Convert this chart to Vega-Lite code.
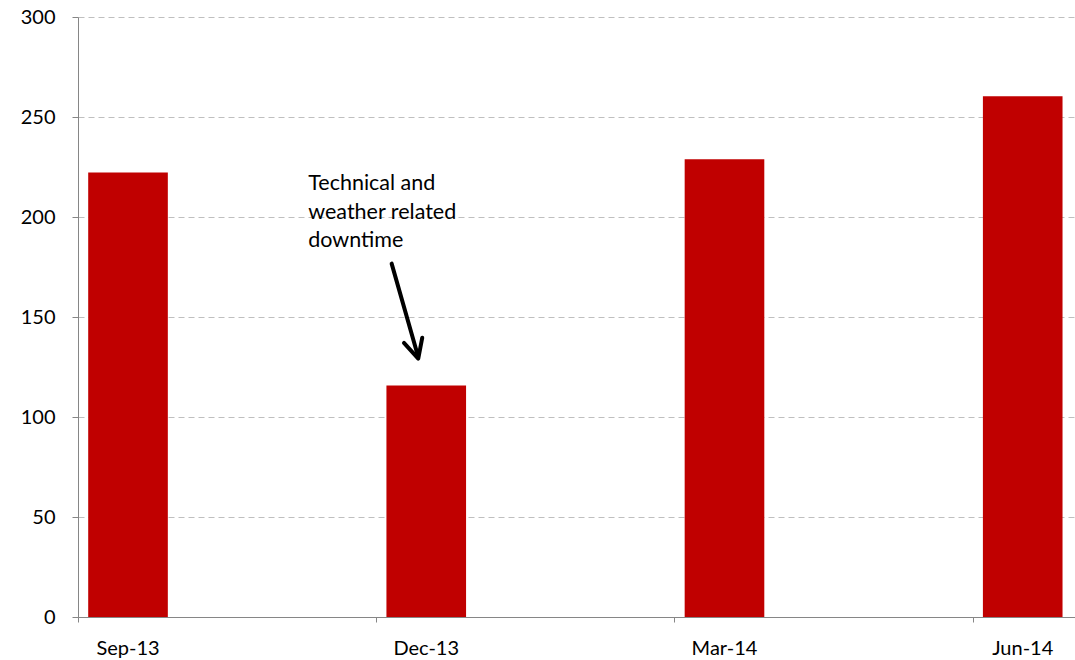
{
  "$schema": "https://vega.github.io/schema/vega-lite/v6.json",
  "width": 997,
  "height": 600,
  "autosize": {"type": "none"},
  "padding": {"left": 78, "top": 17, "right": 0, "bottom": 43},
  "background": "white",
  "config": {"view": {"stroke": null}, "font": "Lato"},
  "datasets": {
    "bars": [
      {"period": "Sep-13", "value": 222.2},
      {"period": "Dec-13", "value": 115.7},
      {"period": "Mar-14", "value": 228.9},
      {"period": "Jun-14", "value": 260.4}
    ],
    "note": [
      {"period": "Dec-13", "ty": 213.3, "label": "Technical and\nweather related\ndowntime", "ya": 176.7, "yb": 130.5, "tip": 129.2}
    ]
  },
  "encoding": {
    "x": {
      "field": "period",
      "type": "nominal",
      "sort": null,
      "scale": {"domain": ["Sep-13", "Dec-13", "Mar-14", "Jun-14"], "paddingInner": 0.733, "paddingOuter": 0.038, "align": 0.45},
      "axis": {
        "title": null,
        "labelAngle": 0,
        "bandPosition": -0.122,
        "tickSize": 5,
        "tickColor": "#868686",
        "domainColor": "#868686",
        "labelFontSize": 20,
        "labelColor": "black",
        "labelBaseline": "alphabetic",
        "labelPadding": 32,
        "grid": false
      }
    }
  },
  "layer": [
    {
      "data": {"name": "bars"},
      "mark": {"type": "bar", "color": "#C00000"},
      "encoding": {
        "y": {
          "field": "value",
          "type": "quantitative",
          "scale": {"domain": [0, 300], "nice": false},
          "axis": {
            "title": null,
            "values": [0, 50, 100, 150, 200, 250, 300],
            "grid": true,
            "gridDash": [6, 4],
            "gridColor": "#BFBFBF",
            "tickSize": 6,
            "tickColor": "#868686",
            "domainColor": "#868686",
            "labelPadding": 17,
            "labelFontSize": 20,
            "labelColor": "black"
          }
        }
      }
    },
    {
      "data": {"name": "note"},
      "mark": {"type": "text", "align": "left", "baseline": "alphabetic", "xOffset": -118, "fontSize": 21.5, "lineHeight": 28.5, "lineBreak": "\n", "color": "black"},
      "encoding": {
        "y": {"field": "ty", "type": "quantitative"},
        "text": {"field": "label"}
      }
    },
    {
      "data": {"name": "note"},
      "mark": {"type": "rule", "color": "black", "strokeWidth": 4, "strokeCap": "round", "xOffset": -34.6, "x2Offset": -8.3},
      "encoding": {
        "x2": {"field": "period"},
        "y": {"field": "ya", "type": "quantitative"},
        "y2": {"field": "yb"}
      }
    },
    {
      "data": {"name": "note"},
      "mark": {"type": "point", "shape": "M-0.5,-1L0,0L0.5,-1", "filled": false, "size": 1444, "strokeWidth": 4, "color": "black", "opacity": 1, "angle": 344.3, "xOffset": -8, "strokeCap": "round", "strokeJoin": "round"},
      "encoding": {
        "y": {"field": "tip", "type": "quantitative"}
      }
    }
  ]
}
